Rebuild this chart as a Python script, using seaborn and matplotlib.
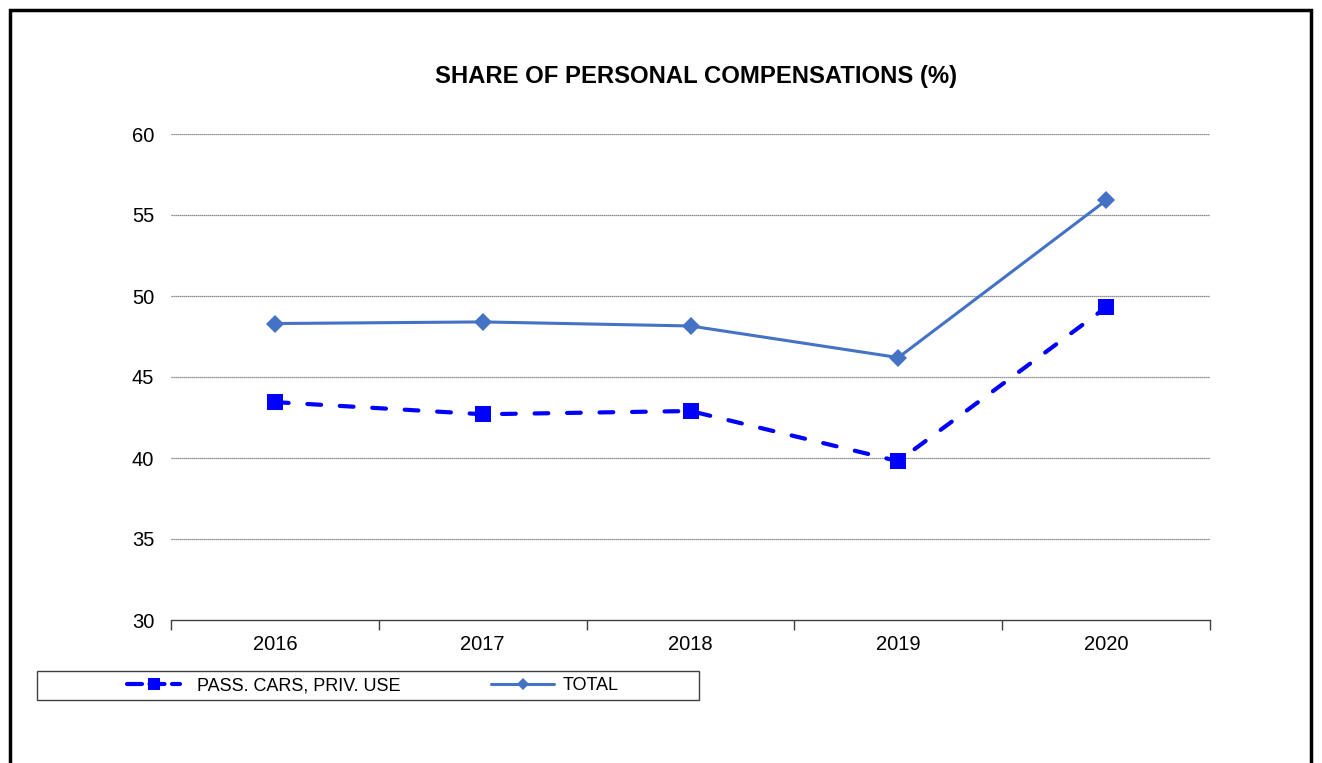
import seaborn as sns
import matplotlib.pyplot as plt
import pandas as pd
from matplotlib.patches import Rectangle

years = ["2016", "2017", "2018", "2019", "2020"]
pass_cars = [43.45, 42.7, 42.9, 39.8, 49.3]
total = [48.3, 48.4, 48.15, 46.2, 55.9]

sns.set_style("white")
plt.rcParams["font.family"] = ["Liberation Sans", "DejaVu Sans"]
plt.rcParams["text.color"] = "black"
plt.rcParams["xtick.color"] = "black"
plt.rcParams["ytick.color"] = "black"

df = pd.DataFrame({"year": years, "pass": pass_cars, "total": total})

fig = plt.figure(figsize=(13.22, 7.63), dpi=100)
ax = fig.add_axes([171 / 1322, 1 - 620 / 763, (1210 - 171) / 1322, (620 - 134) / 763])

sns.lineplot(x="year", y="pass", data=df, ax=ax, color="#0000FF", linewidth=3,
             marker="s", markersize=11, markeredgewidth=0,
             label="PASS. CARS, PRIV. USE", sort=False)
sns.lineplot(x="year", y="total", data=df, ax=ax, color="#4472C4", linewidth=2.2,
             marker="D", markersize=9.5, markeredgewidth=0,
             label="TOTAL", sort=False)
ax.lines[0].set_linestyle((0, (3.3, 4.5)))
ax.lines[0].set_dash_capstyle("round")

ax.set_xlim(-0.5, len(years) - 0.5)
ax.set_ylim(30, 60)
ax.set_yticks(range(30, 61, 5))
ax.set_xticks([i - 0.5 for i in range(len(years) + 1)])
ax.set_xticklabels([])
ax.set_xticks(range(len(years)), minor=True)
ax.set_xticklabels(years, minor=True)
ax.tick_params(axis="x", which="major", length=7, width=1, color="#404040", direction="out", bottom=True)
ax.tick_params(axis="x", which="minor", length=0, pad=11, labelsize=14.5)
ax.tick_params(axis="y", length=0, pad=12, labelsize=14.5)
ax.set_xlabel("")
ax.set_ylabel("")
for y in range(35, 61, 5):
    ax.axhline(y, color="#707070", linestyle=(0, (1, 0.6)), linewidth=0.9, zorder=0)
for s in ["top", "right", "left"]:
    ax.spines[s].set_visible(False)
ax.spines["bottom"].set_color("#404040")
ax.spines["bottom"].set_linewidth(1)

fig.text(696 / 1322, 1 - 76 / 763, "SHARE OF PERSONAL COMPENSATIONS (%)",
         ha="center", va="center", fontsize=17.2, fontweight="bold")

ax.get_legend().remove()
h, l = ax.get_legend_handles_labels()
ly = 1 - 686 / 763
leg1 = fig.legend([h[0]], [l[0]], loc="center left", bbox_to_anchor=(127 / 1322, ly),
                  frameon=False, fontsize=13, handlelength=2.95, handletextpad=0.95,
                  borderpad=0, borderaxespad=0)
leg2 = fig.legend([h[1]], [l[1]], loc="center left", bbox_to_anchor=(491 / 1322, ly),
                  frameon=False, fontsize=13, handlelength=3.5, handletextpad=0.45,
                  borderpad=0, borderaxespad=0)
lh = leg1.legend_handles[0]
lh.set_markersize(8)
lh.set_linestyle((0, (3.6, 1.8)))
leg2.legend_handles[0].set_markersize(6.5)

fig.add_artist(Rectangle((37 / 1322, 1 - 700 / 763), (699 - 37) / 1322, 29 / 763,
                         transform=fig.transFigure, fill=False, edgecolor="#404040",
                         linewidth=1))

fig.add_artist(Rectangle((10 / 1322, -0.05), (1311 - 10) / 1322, 1.05 - 10 / 763,
                         transform=fig.transFigure, fill=False, edgecolor="black",
                         linewidth=2.5, clip_on=False))

fig.savefig("out.png", dpi=100)
